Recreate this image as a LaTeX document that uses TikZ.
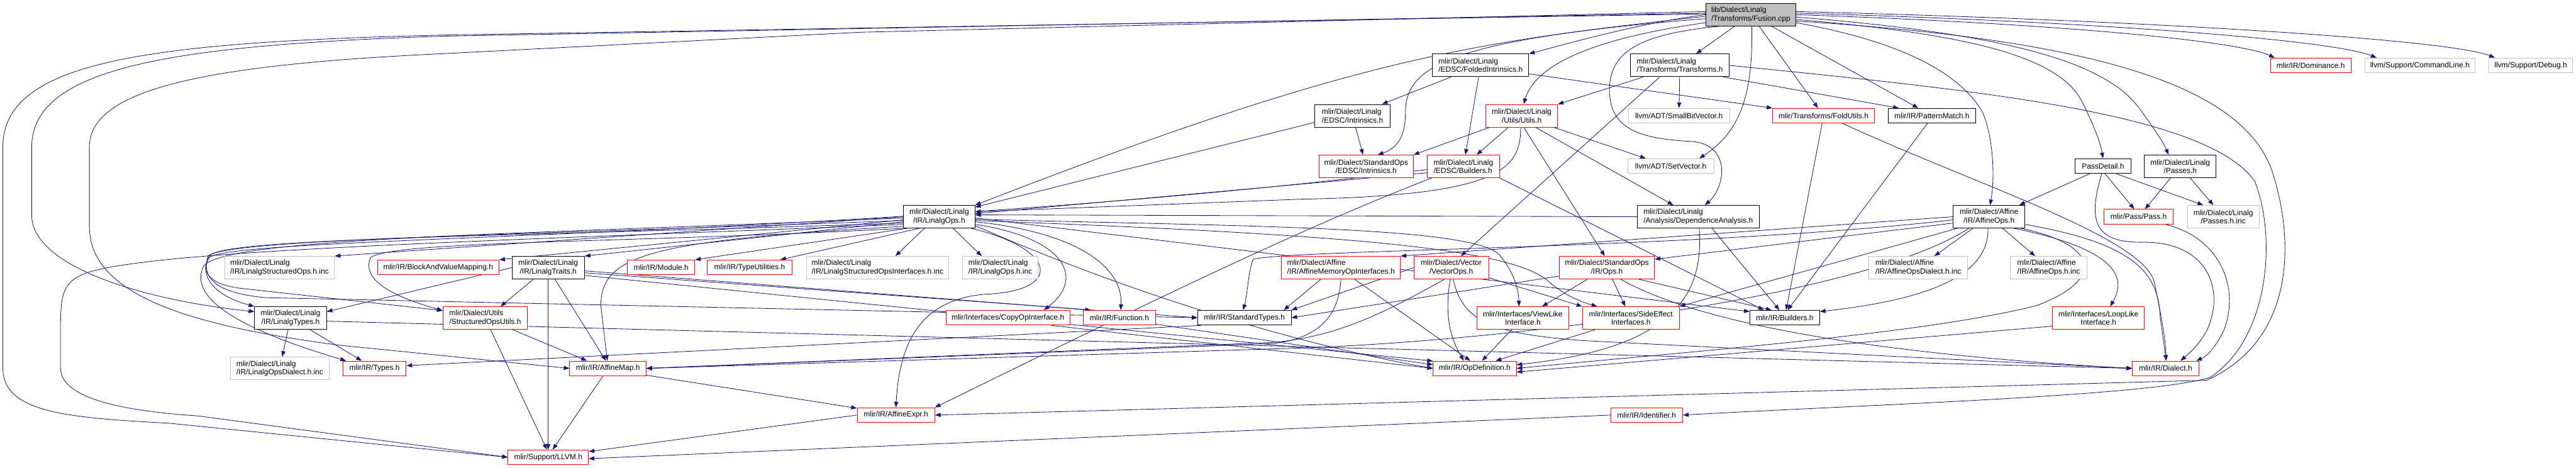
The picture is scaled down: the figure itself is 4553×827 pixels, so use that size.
\documentclass[tikz,border=0pt]{standalone}
\usepackage{fontspec}
\setmainfont{Liberation Sans}
\usetikzlibrary{arrows.meta}
\definecolor{edgeblue}{HTML}{191970}
\definecolor{cutred}{HTML}{FF0000}
\definecolor{extgrey}{HTML}{BFBFBF}
\newcommand{\pxu}{0.75pt}
\pgfdeclarelayer{edgelayer}
\pgfsetlayers{edgelayer,main}

\begin{document}
\begin{tikzpicture}[x=0.75pt, y=-0.75pt,
    hdr/.style={draw, fill=white, line width=0.75pt, inner sep=1pt,
                font=\fontsize{10pt}{11.25pt}\selectfont},
    known/.style={hdr, draw=black},
    cut/.style={hdr, draw=cutred},
    ext/.style={hdr, draw=extgrey},
    rootfile/.style={hdr, draw=black, fill=extgrey},
    oneln/.style={minimum height=19.5pt},
    twoln/.style={minimum height=30pt},
    bw/.style={minimum width=#1*\pxu},
    incl/.style={draw=edgeblue, line width=0.7pt, -{Triangle[length=7.5pt,width=5.5pt]}}]

  \useasboundingbox (0,0) rectangle (4553,827);

  % rank 0 and 1
  \node[rootfile, twoln, bw=159, align=left] (fus) at (3094.5,26) {lib/Dialect/Linalg\\/Transforms/Fusion.cpp};
  \node[known, twoln, bw=170, align=left] (foldi) at (2617,115.5) {mlir/Dialect/Linalg\\/EDSC/FoldedIntrinsics.h};
  \node[known, twoln, bw=174, align=left] (trans) at (2969,115.5) {mlir/Dialect/Linalg\\/Transforms/Transforms.h};
  \node[cut, oneln, bw=142] (domin) at (4084,115.5) {mlir/IR/Dominance.h};
  \node[ext, oneln, bw=194] (cmdline) at (4277,115.5) {llvm/Support/CommandLine.h};
  \node[ext, oneln, bw=148] (debug) at (4473,115.5) {llvm/Support/Debug.h};

  % rank 2
  \node[known, twoln, bw=133, align=left] (lintr) at (2390.5,204.5) {mlir/Dialect/Linalg\\/EDSC/Intrinsics.h};
  \node[cut, twoln, bw=127, align=center] (utils) at (2689.5,204.5) {mlir/Dialect/Linalg\\/Utils/Utils.h};
  \node[ext, oneln, bw=179] (sbv) at (2967.5,204.5) {llvm/ADT/SmallBitVector.h};
  \node[cut, oneln, bw=180] (foldu) at (3223,204.5) {mlir/Transforms/FoldUtils.h};
  \node[known, oneln, bw=155] (patm) at (3414.5,204.5) {mlir/IR/PatternMatch.h};

  % rank 3
  \node[cut, twoln, bw=167, align=center] (sedsc) at (2414.5,294) {mlir/Dialect/StandardOps\\/EDSC/Intrinsics.h};
  \node[cut, twoln, bw=127, align=left] (lbld) at (2586.5,294) {mlir/Dialect/Linalg\\/EDSC/Builders.h};
  \node[ext, oneln, bw=152] (setv) at (2953,293.5) {llvm/ADT/SetVector.h};
  \node[known, oneln, bw=98] (pdet) at (3717,293.5) {PassDetail.h};
  \node[known, twoln, bw=127, align=center] (lpass) at (3853.5,294) {mlir/Dialect/Linalg\\/Passes.h};

  % rank 4
  \node[known, twoln, bw=126, align=center] (lops) at (1660,383) {mlir/Dialect/Linalg\\/IR/LinalgOps.h};
  \node[known, twoln, bw=215, align=left] (depan) at (3001.5,383) {mlir/Dialect/Linalg\\/Analysis/DependenceAnalysis.h};
  \node[known, twoln, bw=127, align=center] (aops) at (3515.5,383) {mlir/Dialect/Affine\\/IR/AffineOps.h};
  \node[cut, oneln, bw=122] (pass) at (3780,383) {mlir/Pass/Pass.h};
  \node[ext, twoln, bw=127, align=center] (pinc) at (3929.5,383) {mlir/Dialect/Linalg\\/Passes.h.inc};

  % rank 5
  \node[ext, twoln, bw=194, align=left] (lsinc) at (494,473) {mlir/Dialect/Linalg\\/IR/LinalgStructuredOps.h.inc};
  \node[cut, oneln, bw=215] (bvm) at (774.5,472.5) {mlir/IR/BlockAndValueMapping.h};
  \node[known, twoln, bw=128, align=center] (ltraits) at (969,473) {mlir/Dialect/Linalg\\/IR/LinalgTraits.h};
  \node[cut, oneln, bw=119] (module) at (1168.5,472.5) {mlir/IR/Module.h};
  \node[cut, oneln, bw=150] (tyutil) at (1325,472.5) {mlir/IR/TypeUtilities.h};
  \node[ext, twoln, bw=252, align=left] (lsoi) at (1551,473) {mlir/Dialect/Linalg\\/IR/LinalgStructuredOpsInterfaces.h.inc};
  \node[ext, twoln, bw=134, align=left] (lopsinc) at (1768,473) {mlir/Dialect/Linalg\\/IR/LinalgOps.h.inc};
  \node[cut, twoln, bw=210, align=left] (amoi) at (2370,473) {mlir/Dialect/Affine\\/IR/AffineMemoryOpInterfaces.h};
  \node[cut, twoln, bw=132, align=center] (vops) at (2565,473) {mlir/Dialect/Vector\\/VectorOps.h};
  \node[cut, twoln, bw=168, align=center] (sops) at (2840,473) {mlir/Dialect/StandardOps\\/IR/Ops.h};
  \node[ext, twoln, bw=175, align=left] (aodinc) at (3390.5,473) {mlir/Dialect/Affine\\/IR/AffineOpsDialect.h.inc};
  \node[ext, twoln, bw=136, align=left] (aoinc) at (3621,473) {mlir/Dialect/Affine\\/IR/AffineOps.h.inc};

  % rank 6
  \node[known, twoln, bw=127, align=center] (ltypes) at (513.5,562) {mlir/Dialect/Linalg\\/IR/LinalgTypes.h};
  \node[cut, twoln, bw=149, align=left] (souts) at (857.5,562) {mlir/Dialect/Utils\\/StructuredOpsUtils.h};
  \node[cut, oneln, bw=219] (copyi) at (1781.5,561.5) {mlir/Interfaces/CopyOpInterface.h};
  \node[cut, oneln, bw=127] (func) at (1978.5,561.5) {mlir/IR/Function.h};
  \node[known, oneln, bw=165] (stypes) at (2199.5,561.5) {mlir/IR/StandardTypes.h};
  \node[cut, twoln, bw=163, align=center] (viewl) at (2691.5,562) {mlir/Interfaces/ViewLike\\Interface.h};
  \node[cut, twoln, bw=171, align=center] (sidee) at (2882.5,562) {mlir/Interfaces/SideEffect\\Interfaces.h};
  \node[known, oneln, bw=123] (irbld) at (3154.5,561.5) {mlir/IR/Builders.h};
  \node[cut, twoln, bw=162, align=center] (loopl) at (3709,562) {mlir/Interfaces/LoopLike\\Interface.h};

  % rank 7 to 9
  \node[ext, twoln, bw=175, align=left] (lodinc) at (494.5,651) {mlir/Dialect/Linalg\\/IR/LinalgOpsDialect.h.inc};
  \node[cut, oneln, bw=112] (types) at (662,651) {mlir/IR/Types.h};
  \node[cut, oneln, bw=135] (amap) at (1074.5,651) {mlir/IR/AffineMap.h};
  \node[cut, oneln, bw=147] (opdef) at (2606.5,651) {mlir/IR/OpDefinition.h};
  \node[cut, oneln, bw=117] (dialect) at (3827.5,651) {mlir/IR/Dialect.h};
  \node[cut, oneln, bw=137] (aexpr) at (1583.5,733.5) {mlir/IR/AffineExpr.h};
  \node[cut, oneln, bw=127] (ident) at (2910.5,733.5) {mlir/IR/Identifier.h};
  \node[cut, oneln, bw=142] (llvm) at (969,808) {mlir/Support/LLVM.h};

  \begin{pgfonlayer}{edgelayer}
  % Fusion.cpp
  \draw[incl] (fus.west) .. controls (2900,40) and (2760,80) .. (foldi.north east);
  \draw[incl] (fus) -- (trans);
  \draw[incl] (fus.190) .. controls (2800,70) and (2712,120) .. (utils.80);
  \draw[incl] (fus.185) .. controls (2550,70) and (2484,120) .. (2484,200) .. controls (2484,240) and (2470,262) .. (sedsc.45);
  \draw[incl] (fus.182) .. controls (2600,75) and (2400,100) .. (lops.north east);
  \draw[incl] (fus.179) -- (780,62) .. controls (250,75) and (5,110) .. (5,260) -- (5,650) .. controls (5,730) and (120,738) .. (300,748) -- (llvm.west);
  \draw[incl] (fus.178) -- (780,64) .. controls (300,80) and (56,120) .. (56,260) -- (56,380) .. controls (56,470) and (250,530) .. (ltypes.170);
  \draw[incl] (fus.176) -- (1520,57) -- (780,95) .. controls (350,115) and (158,160) .. (158,260) -- (158,400) .. controls (158,520) and (330,575) .. (600,610) -- (amap.west);
  \draw[incl] (fus.200) .. controls (2900,60) and (2850,90) .. (2845,150) .. controls (2840,230) and (2900,245) .. (2990,250) .. controls (3060,255) and (3050,330) .. (depan.60);
  \draw[incl] (fus.-85) .. controls (3098,160) and (3080,230) .. (setv.15);
  \draw[incl] (fus) -- (foldu);
  \draw[incl] (fus) -- (patm);
  \draw[incl] (fus.-10) .. controls (3340,70) and (3460,120) .. (3505,200) .. controls (3525,250) and (3525,320) .. (aops.85);
  \draw[incl] (fus.-6) .. controls (3480,60) and (3640,100) .. (3680,180) .. controls (3700,220) and (3712,250) .. (pdet.north);
  \draw[incl] (fus.-3) .. controls (3550,60) and (3720,110) .. (3780,190) .. controls (3810,230) and (3825,255) .. (lpass.135);
  \draw[incl] (fus.0) .. controls (3600,40) and (3950,70) .. (domin.168);
  \draw[incl] (fus.2) .. controls (3700,38) and (4120,70) .. (cmdline.170);
  \draw[incl] (fus.4) .. controls (3800,36) and (4330,70) .. (debug.168);
  \draw[incl] (fus.-8) .. controls (3700,70) and (3960,150) .. (4015,300) .. controls (4055,420) and (4060,600) .. (3900,672) -- (aexpr.east);

  % Transforms.h and FoldedIntrinsics.h
  \draw[incl] (trans) -- (utils);
  \draw[incl] (trans) -- (sbv);
  \draw[incl] (trans.-150) -- (vops.50);
  \draw[incl] (trans.-15) -- (patm.167);
  \draw[incl] (trans.east) .. controls (3500,160) and (3900,200) .. (3985,320) .. controls (4025,420) and (4010,600) .. (3906,667) .. controls (3800,700) and (3300,715) .. (ident.east);
  \draw[incl] (foldi) -- (lintr);
  \draw[incl] (foldi) -- (lbld);
  \draw[incl] (foldi.-10) -- (foldu.north west);
  \draw[incl] (lintr) -- (sedsc);
  \draw[incl] (lintr.-170) -- (lops.15);

  % Utils.h and EDSC/Builders.h
  \draw[incl] (utils.-160) -- (sedsc.north east);
  \draw[incl] (utils) -- (lbld);
  \draw[incl] (utils.-20) -- (setv.163);
  \draw[incl] (utils.-40) -- (depan.155);
  \draw[incl] (utils.-80) -- (sops.100);
  \draw[incl] (utils.-95) .. controls (2688,300) and (2650,345) .. (2300,352) -- (lops.8);
  \draw[incl] (lbld.190) -- (lops.5);
  \draw[incl] (lbld.south east) -- (irbld.160);
  \draw[incl] (lbld.-160) .. controls (2260,420) and (1980,560) .. (aexpr.north east);
  \draw[incl] (lbld.185) .. controls (1500,425) and (420,415) .. (370,455) .. controls (350,485) and (380,505) .. (430,510) -- (souts.170);

  % DependenceAnalysis.h, passes
  \draw[incl] (depan.west) -- (lops.3);
  \draw[incl] (depan.-40) -- (irbld.125);
  \draw[incl] (depan.-85) .. controls (3012,520) and (2960,615) .. (opdef.5);
  \draw[incl] (pdet.-150) -- (aops.21);
  \draw[incl] (pdet.-75) -- (pass.120);
  \draw[incl] (pdet.-30) -- (pinc.150);
  \draw[incl] (pdet.-100) .. controls (3690,390) and (3700,430) .. (3790,428) .. controls (3900,428) and (3935,510) .. (3900,585) .. controls (3885,612) and (3865,628) .. (dialect.27);
  \draw[incl] (lpass) -- (pass);
  \draw[incl] (lpass) -- (pinc);
  \draw[incl] (pass.-16) .. controls (3925,420) and (3960,510) .. (3930,585) .. controls (3915,615) and (3900,630) .. (dialect.14);

  % AffineOps.h
  \draw[incl] (aops) -- (aodinc);
  \draw[incl] (aops) -- (aoinc);
  \draw[incl] (aops.west) -- (amoi.north east);
  \draw[incl] (aops.-170) -- (sops.10);
  \draw[incl] (aops.-160) -- (sidee.north east);
  \draw[incl] (aops.-175) .. controls (3000,440) and (2300,440) .. (2215,458) .. controls (2206,480) and (2205,520) .. (stypes.100);
  \draw[incl] (aops.-150) .. controls (3300,520) and (2700,600) .. (2300,615) -- (amap.east);
  \draw[incl] (aops.-20) .. controls (3700,430) and (3730,490) .. (3600,540) .. controls (3400,590) and (3000,620) .. (opdef.east);
  \draw[incl] (aops.-25) .. controls (3740,440) and (3760,490) .. (loopl.45);
  \draw[incl] (aops.-12) .. controls (3770,430) and (3815,480) .. (3818,560) -- (dialect.85);
  \draw[incl] (aops.-95) .. controls (3515,470) and (3450,525) .. (irbld.10);

  % FoldUtils.h, PatternMatch.h
  \draw[incl] (foldu.-100) -- (irbld.80);
  \draw[incl] (foldu.-22) .. controls (3500,330) and (3790,420) .. (3808,500) .. controls (3820,560) and (3828,600) .. (dialect.87);
  \draw[incl] (patm.-120) -- (irbld.70);

  % StandardOps, Vector, AffineMemoryOpInterfaces
  \draw[incl] (sops) -- (viewl);
  \draw[incl] (sops) -- (sidee);
  \draw[incl] (sops.-170) -- (stypes.east);
  \draw[incl] (sops.-20) -- (irbld.150);
  \draw[incl] (sops.-40) .. controls (3000,570) and (3300,625) .. (dialect.west);
  \draw[incl] (vops.-15) -- (sidee.north west);
  \draw[incl] (vops.-95) .. controls (2552,560) and (2565,600) .. (opdef.145);
  \draw[incl] (vops.-80) .. controls (2585,570) and (2640,590) .. (2800,602) -- (dialect.west);
  \draw[incl] (vops.-120) .. controls (2460,545) and (2370,595) .. (2250,605) -- (amap.east);
  \draw[incl] (vops.west) -- (stypes.north east);
  \draw[incl] (amoi.-150) -- (stypes.11);
  \draw[incl] (amoi.-40) -- (opdef.120);
  \draw[incl] (amoi.-90) .. controls (2366,560) and (2330,598) .. (2250,607) -- (amap.east);

  % interfaces
  \draw[incl] (viewl) -- (opdef);
  \draw[incl] (sidee.-162) -- (opdef.20);
  \draw[incl] (loopl.-170) -- (opdef.-5);
  \draw[incl] (copyi.-10) -- (opdef.west);
  \draw[incl] (func.-10) -- (opdef.175);

  % LinalgOps.h
  \draw[incl] (lops.west) -- (lsinc.north east);
  \draw[incl] (lops.-175) -- (bvm.north east);
  \draw[incl] (lops.-172) -- (ltraits.north east);
  \draw[incl] (lops.-160) -- (module.north east);
  \draw[incl] (lops.-150) -- (tyutil.14);
  \draw[incl] (lops.-142) -- (lsoi.33);
  \draw[incl] (lops.-40) -- (lopsinc.148);
  \draw[incl] (lops.-165) .. controls (1150,425) and (1062,450) .. (1062,540) -- (amap.95);
  \draw[incl] (lops.-20) .. controls (1870,440) and (1880,515) .. (1740,520) .. controls (1630,530) and (1590,600) .. (aexpr.north);
  \draw[incl] (lops.-12) .. controls (1880,420) and (1920,490) .. (copyi.12);
  \draw[incl] (lops.-8) .. controls (1900,410) and (1985,470) .. (func.80);
  \draw[incl] (lops.-4) .. controls (2200,400) and (2600,400) .. (2650,450) .. controls (2675,480) and (2684,510) .. (viewl.108);
  \draw[incl] (lops.-6) .. controls (2400,415) and (2680,440) .. (2740,500) .. controls (2770,525) and (2800,535) .. (sidee.161);
  \draw[incl] (lops.-14) .. controls (2000,520) and (2300,610) .. (opdef.west);
  \draw[incl] (lops.-2) -- (irbld.170);
  \draw[incl] (lops.-174) .. controls (900,416) and (410,422) .. (368,452) .. controls (355,490) and (380,518) .. (470,526) -- (stypes.west);
  \draw[incl] (lops.-178) .. controls (900,415) and (400,420) .. (360,470) .. controls (335,520) and (400,575) .. (types.165);
  \draw[incl] (lops.-170) .. controls (900,418) and (420,420) .. (372,450) .. controls (350,480) and (370,520) .. (ltypes.north west);
  \draw[incl] (lops.-168) .. controls (900,425) and (300,440) .. (160,480) .. controls (110,495) and (107,520) .. (107,580) -- (107,650) .. controls (107,700) and (200,725) .. (350,735) -- (llvm.west);
  \draw[incl] (lops.-162) .. controls (1100,430) and (700,425) .. (655,455) .. controls (640,490) and (680,520) .. (souts.170);

  % LinalgTraits.h, LinalgTypes.h and below
  \draw[incl] (ltraits.west) -- (ltypes.10);
  \draw[incl] (ltraits.-142) -- (souts.37);
  \draw[incl] (ltraits) -- (llvm);
  \draw[incl] (ltraits.-60) -- (amap.105);
  \draw[incl] (ltraits.-5) -- (func.165);
  \draw[incl] (ltraits.-8) -- (stypes.west);
  \draw[incl] (ltraits.-12) -- (opdef.170);
  \draw[incl] (ltypes) -- (lodinc);
  \draw[incl] (ltypes) -- (types);
  \draw[incl] (ltypes.-5) -- (dialect.west);
  \draw[incl] (souts.-23) -- (amap.160);
  \draw[incl] (souts.-65) -- (llvm.100);
  \draw[incl] (amap.-10) -- (aexpr.170);
  \draw[incl] (amap.-123) -- (llvm.60);
  \draw[incl] (aexpr.west) -- (llvm.8);
  \draw[incl] (ident.west) -- (llvm.-2);
  \draw[incl] (stypes.-170) -- (types.5);
  \end{pgfonlayer}
\end{tikzpicture}
\end{document}
